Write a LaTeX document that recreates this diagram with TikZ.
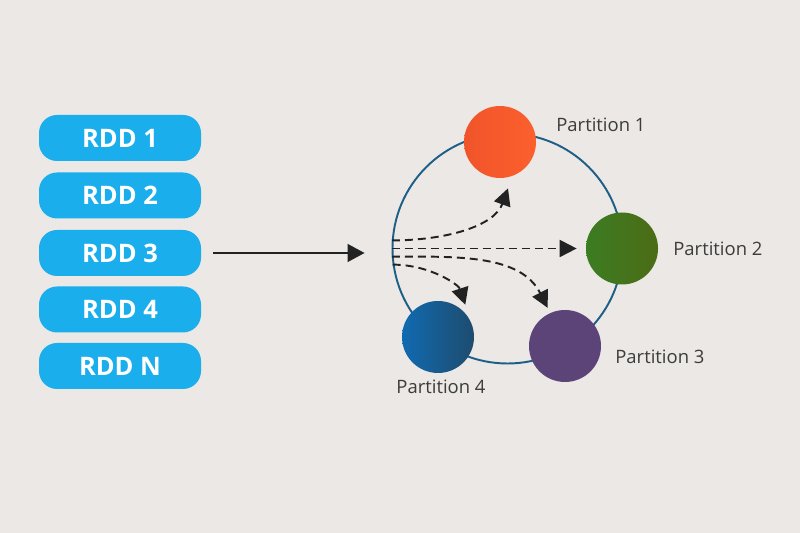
\documentclass[tikz,border=0pt]{standalone}
\usepackage{fontspec}
\setmainfont{Open Sans}
\usetikzlibrary{arrows.meta,shapes.geometric}

\definecolor{bgGray}{RGB}{235,232,229}
\definecolor{rddBlue}{RGB}{27,174,236}
\definecolor{ringBlue}{RGB}{30,95,135}
\definecolor{tipGray}{RGB}{34,34,34}
\definecolor{labelGray}{RGB}{60,60,60}

\tikzset{
	rddbox/.style={rectangle, rounded corners=0.36cm, fill=rddBlue, text=white, minimum width=3.24cm, minimum height=0.92cm, font=\bfseries\fontsize{14.5}{16}\selectfont},
	part/.style={circle, minimum size=1.44cm, inner sep=0pt},
	partlabel/.style={text=labelGray, font=\fontsize{10.5}{12}\selectfont, inner sep=0pt},
	dasharrow/.style={draw=tipGray, line width=1.1pt, dash pattern=on 0.16cm off 0.1cm, -{Triangle[length=0.34cm,width=0.34cm]}}
}

\begin{document}
\begin{tikzpicture}
			%%%%% START %%%%%
			
			\fill[bgGray] (0, 0) rectangle (16, 10.66);
			\useasboundingbox (0, 0) rectangle (16, 10.66);
			
			\node[rddbox] (rdd1) at (2.4, 7.9) {RDD 1};
			\node[rddbox] (rdd2) at (2.4, 6.75) {RDD 2};
			\node[rddbox] (rdd3) at (2.4, 5.6) {RDD 3};
			\node[rddbox] (rdd4) at (2.4, 4.47) {RDD 4};
			\node[rddbox] (rddN) at (2.4, 3.34) {RDD N};
			
			\node[circle, draw=ringBlue, line width=1.1pt, minimum size=4.6cm, inner sep=0pt] (ring) at (10.15, 5.69) {};
			
			\node[part, left color={rgb,255:red,240;green,84;blue,42}, right color={rgb,255:red,252;green,96;blue,46}] (p1) at (10.0, 7.82) {};
			\node[part, left color={rgb,255:red,60;green,124;blue,34}, right color={rgb,255:red,76;green,108;blue,22}] (p2) at (12.44, 5.69) {};
			\node[part, fill={rgb,255:red,92;green,68;blue,120}] (p3) at (11.3, 3.74) {};
			\node[part, left color={rgb,255:red,16;green,106;blue,176}, right color={rgb,255:red,30;green,76;blue,110}] (p4) at (8.76, 3.92) {};
			
			\node[partlabel, anchor=west] (lab1) at (11.12, 8.16) {Partition 1};
			\node[partlabel, anchor=west] (lab2) at (13.46, 5.68) {Partition 2};
			\node[partlabel, anchor=west] (lab3) at (12.3, 3.52) {Partition 3};
			\node[partlabel] (lab4) at (8.82, 2.92) {Partition 4};
			
			\draw[tipGray, line width=0.8pt, -{Triangle[length=0.34cm,width=0.36cm]}, shorten <=0.24cm, shorten >=0.54cm] (rdd3.east) -- (rdd3.east -| ring.west);
			
			\draw[dasharrow, shorten >=0.26cm] (ring.176) to[out=0, in=250] (p1.290);
			\draw[dasharrow, shorten >=0.18cm] (ring.180) -- (p2);
			\draw[dasharrow, shorten >=0.11cm] (ring.184) to[out=0, in=117] (p3.114);
			\draw[dasharrow, shorten >=0.33cm] (ring.188) to[out=0, in=108] (p4.27);
			
			%%%%% END %%%%%
\end{tikzpicture}
\end{document}
